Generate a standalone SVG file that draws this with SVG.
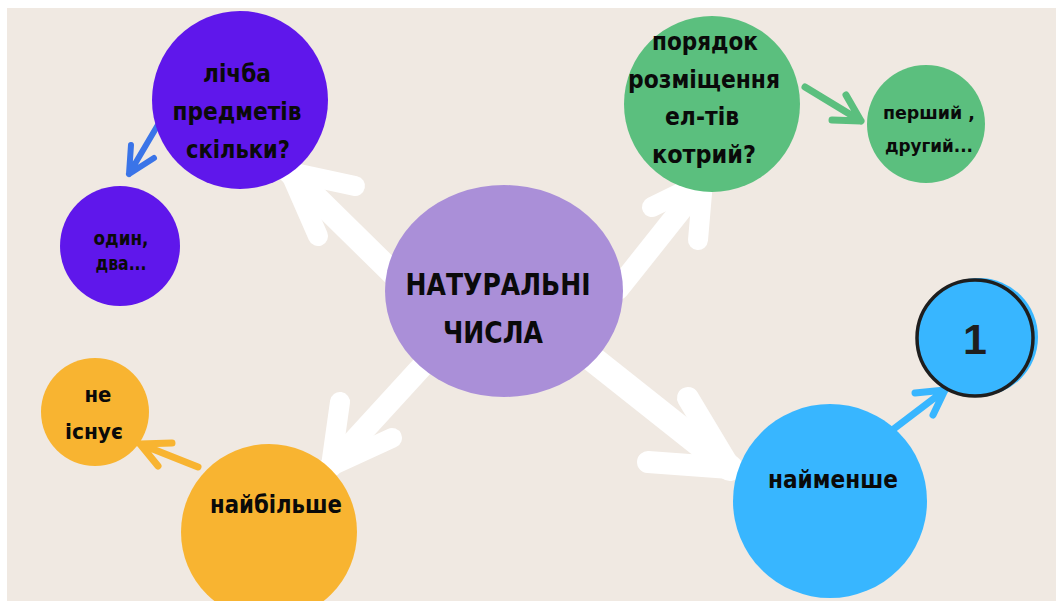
<svg xmlns="http://www.w3.org/2000/svg" width="1056" height="601" viewBox="0 0 1056 601">
  <style>
    .lbl { font-family: "DejaVu Sans", "Noto Sans", sans-serif; font-weight: 600; fill: #0a0a0a; text-anchor: middle; }
    .big { stroke: #ffffff; fill: none; stroke-linecap: round; stroke-linejoin: round; }
    .thin { fill: none; stroke-linecap: round; stroke-linejoin: round; }
  </style>
  <rect width="1056" height="601" fill="#ffffff"/>
  <rect x="7" y="8" width="1049" height="593" fill="#f0e9e2"/>

  <!-- connectors -->
  <g id="connectors">
    <!-- centre to the four main circles -->
    <g class="big">
      <path d="M408 288 L290 172" stroke-width="24"/>
      <path d="M290 172 L355 186 M290 172 L318 236" stroke-width="20"/>
      <path d="M618 289 L703 182" stroke-width="22"/>
      <path d="M703 182 L652 207 M703 182 L698 240" stroke-width="20"/>
      <path d="M428 360 L331 466" stroke-width="22"/>
      <path d="M331 466 L340 402 M331 466 L392 438" stroke-width="20"/>
      <path d="M585 353 L730 468" stroke-width="26"/>
      <path d="M730 468 L688 398 M730 468 L648 462" stroke-width="22"/>
    </g>
    <!-- main circles to the small ones -->
    <g class="thin" stroke="#3a74e8" stroke-width="6">
      <path d="M162 118 L129 174 M129 174 L131 145 M129 174 L154 158"/>
    </g>
    <g class="thin" stroke="#5bbf7e" stroke-width="7">
      <path d="M805 87 L861 121 M861 121 L846 95 M861 121 L832 120"/>
    </g>
    <g class="thin" stroke="#f8b431" stroke-width="7">
      <path d="M198 467 L140 444 M140 444 L172 443 M140 444 L158 466"/>
    </g>
    <g class="thin" stroke="#38b6ff" stroke-width="7">
      <path d="M891 431 L945 390 M945 390 L915 393 M945 390 L933 415"/>
    </g>
  </g>

  <g id="node-count">
    <ellipse cx="240" cy="100" rx="88" ry="89" fill="#5f17eb"/>
    <text class="lbl" x="237" y="82" font-size="24" textLength="68" lengthAdjust="spacingAndGlyphs">лічба</text>
    <text class="lbl" x="237" y="120" font-size="24" textLength="129" lengthAdjust="spacingAndGlyphs">предметів</text>
    <text class="lbl" x="238" y="158" font-size="24" textLength="104" lengthAdjust="spacingAndGlyphs">скільки?</text>
  </g>

  <g id="node-one-two">
    <circle cx="120" cy="246" r="60" fill="#5f17eb"/>
    <text class="lbl" x="121" y="245" font-size="19" textLength="55" lengthAdjust="spacingAndGlyphs">один,</text>
    <text class="lbl" x="121" y="270" font-size="19" textLength="51" lengthAdjust="spacingAndGlyphs">два...</text>
  </g>

  <g id="node-order">
    <circle cx="712" cy="104" r="88" fill="#5bbf7e"/>
    <text class="lbl" x="705" y="50" font-size="24" textLength="106" lengthAdjust="spacingAndGlyphs">порядок</text>
    <text class="lbl" x="704" y="88" font-size="24" textLength="152" lengthAdjust="spacingAndGlyphs">розміщення</text>
    <text class="lbl" x="702" y="125" font-size="24" textLength="74" lengthAdjust="spacingAndGlyphs">ел-тів</text>
    <text class="lbl" x="704" y="163" font-size="24" textLength="104" lengthAdjust="spacingAndGlyphs">котрий?</text>
  </g>

  <g id="node-first-second">
    <circle cx="926" cy="124" r="59" fill="#5bbf7e"/>
    <text class="lbl" x="929" y="119" font-size="18" textLength="92" lengthAdjust="spacingAndGlyphs">перший ,</text>
    <text class="lbl" x="929" y="152" font-size="18" textLength="88" lengthAdjust="spacingAndGlyphs">другий...</text>
  </g>

  <g id="node-natural">
    <ellipse cx="504" cy="291" rx="119" ry="106" fill="#aa8fd8"/>
    <text class="lbl" x="498" y="295" font-size="31" textLength="185" lengthAdjust="spacingAndGlyphs">НАТУРАЛЬНІ</text>
    <text class="lbl" x="493" y="343" font-size="31" textLength="100" lengthAdjust="spacingAndGlyphs">ЧИСЛА</text>
  </g>

  <g id="node-none">
    <circle cx="95" cy="412" r="54" fill="#f8b431"/>
    <text class="lbl" x="98" y="402" font-size="21" textLength="27" lengthAdjust="spacingAndGlyphs">не</text>
    <text class="lbl" x="94" y="439" font-size="21" textLength="58" lengthAdjust="spacingAndGlyphs">існує</text>
  </g>

  <g id="node-largest">
    <circle cx="269" cy="532" r="88" fill="#f8b431"/>
    <text class="lbl" x="276" y="513" font-size="25" textLength="132" lengthAdjust="spacingAndGlyphs">найбільше</text>
  </g>

  <g id="node-smallest">
    <circle cx="830" cy="501" r="97" fill="#38b6ff"/>
    <text class="lbl" x="833" y="488" font-size="25" textLength="130" lengthAdjust="spacingAndGlyphs">найменше</text>
  </g>

  <g id="node-one">
    <circle cx="979" cy="337" r="59" fill="#38b6ff"/>
    <circle cx="975" cy="338" r="58" fill="#38b6ff" stroke="#1e1e1e" stroke-width="3.5"/>
    <text x="975" y="354" font-family="Liberation Sans, Arial, sans-serif" font-weight="bold" font-size="43" fill="#1e1e1e" text-anchor="middle">1</text>
  </g>
</svg>
